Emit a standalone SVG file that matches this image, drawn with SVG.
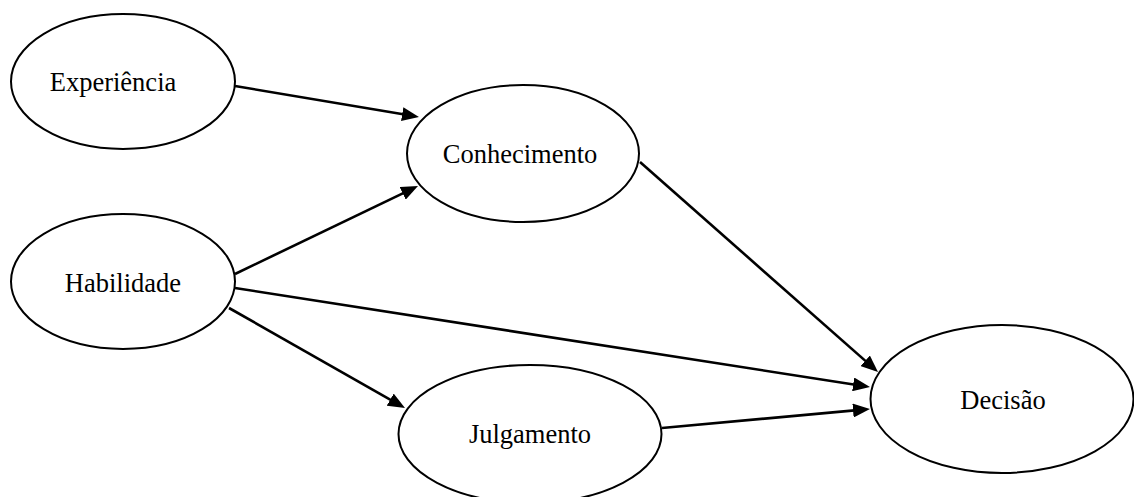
<svg xmlns="http://www.w3.org/2000/svg" width="1134" height="497" viewBox="0 0 1134 497">
<style>
.node ellipse{fill:#fff;stroke:#000;stroke-width:2}
.node text{font-family:"Liberation Serif","Times New Roman",serif;font-size:26.5px;text-anchor:middle;fill:#000}
.edges line{stroke:#000;stroke-width:2.6;marker-end:url(#ah)}
</style>
<defs>
<marker id="ah" markerUnits="userSpaceOnUse" markerWidth="18" markerHeight="14" refX="7" refY="7" orient="auto">
<path d="M0,0 L17,7 L0,14 z" fill="#000"/>
</marker>
</defs>
<rect width="1134" height="497" fill="#fff"/>
<g class="edges">
<line x1="235" y1="86" x2="409.1" y2="115.3"/>
<line x1="235" y1="274" x2="409" y2="190.3"/>
<line x1="640" y1="162" x2="870.5" y2="365.4"/>
<line x1="235" y1="288" x2="860.1" y2="385.5"/>
<line x1="229" y1="308" x2="396.3" y2="403.1"/>
<line x1="662" y1="428" x2="860" y2="409.9"/>
</g>
<g id="experiencia" class="node"><ellipse cx="123" cy="81.5" rx="112" ry="67.5"/><text x="113" y="91">Experiência</text></g>
<g id="conhecimento" class="node"><ellipse cx="523" cy="153.5" rx="116" ry="68.5"/><text x="520" y="163">Conhecimento</text></g>
<g id="habilidade" class="node"><ellipse cx="123" cy="281.5" rx="112" ry="67.5"/><text x="123" y="291.5">Habilidade</text></g>
<g id="julgamento" class="node"><ellipse cx="530" cy="434" rx="131.5" ry="69"/><text x="530" y="442.5">Julgamento</text></g>
<g id="decisao" class="node"><ellipse cx="1002" cy="399" rx="131.5" ry="74"/><text x="1003" y="409">Decisão</text></g>
</svg>
